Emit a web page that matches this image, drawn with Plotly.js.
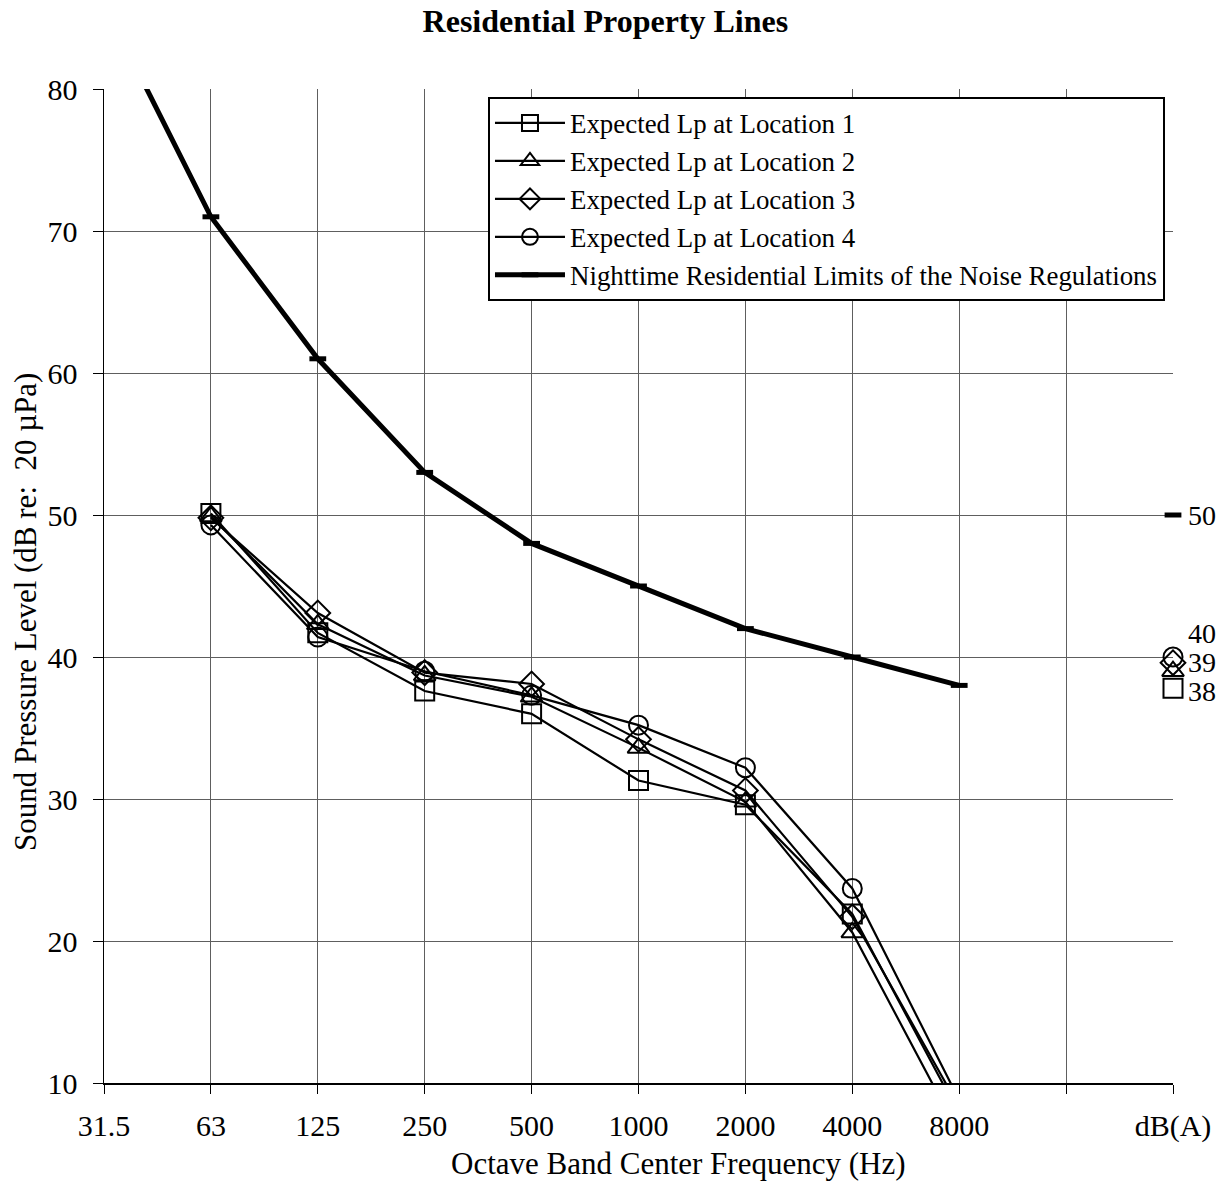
<!DOCTYPE html>
<html>
<head>
<meta charset="utf-8">
<script src="https://cdn.plot.ly/plotly-3.0.1.min.js"></script>
<style>body{margin:0;padding:0;background:#fff;} #chart{width:1228px;height:1195px;}</style>
</head>
<body>
<div id="chart"></div>
<script>
// Category labels along the x axis (octave bands, a blank slot, then the overall A-weighted level)
const bands = ['31.5', '63', '125', '250', '500', '1000', '2000', '4000', '8000'];
const xLabels = bands.concat(['', 'dB(A)']);

// Octave band sound pressure levels (dB re 20 µPa)
const loc1 = [null, 50.1, 41.7, 37.6, 36.0, 31.3, 29.6, 21.9, 7.8];
const loc2 = [null, 49.9, 42.3, 38.7, 37.2, 33.6, 29.8, 20.6, 6.4];
const loc3 = [null, 49.8, 43.1, 38.9, 38.1, 34.2, 30.6, 21.7, 8.3];
const loc4 = [null, 49.3, 41.4, 39.0, 37.3, 35.2, 32.2, 23.7, 8.8];
const limits = [86, 71, 61, 53, 48, 45, 42, 40, 38];

// Overall A-weighted levels
const dbaLoc1 = 37.8;
const dbaLoc2 = 39.0;
const dbaLoc3 = 39.6;
const dbaLoc4 = 40.0;
const dbaLimit = 50;

const seriesNames = [
  'Expected Lp at Location 1',
  'Expected Lp at Location 2',
  'Expected Lp at Location 3',
  'Expected Lp at Location 4',
  'Nighttime Residential Limits of the Noise Regulations'
];

const FONT = 'Liberation Serif, Times New Roman, serif';
const bandX = bands.map((_, i) => i);
const dbaX = xLabels.indexOf('dB(A)');

function locTrace(name, y, symbol) {
  return {
    type: 'scatter', mode: 'lines+markers', name: name,
    x: bandX, y: y,
    line: {color: '#000', width: 2.2},
    marker: {symbol: symbol, size: 19, color: '#000', line: {color: '#000', width: 2}},
    connectgaps: false
  };
}
function dbaTrace(y, symbol, size) {
  return {
    type: 'scatter', mode: 'markers',
    x: [dbaX], y: [y], showlegend: false, cliponaxis: false,
    marker: {symbol: symbol, size: size || 19, color: '#000', line: {color: '#000', width: symbol === 'line-ew' ? 5 : 2}}
  };
}

const traces = [
  locTrace(seriesNames[0], loc1, 'square-open'),
  locTrace(seriesNames[1], loc2, 'triangle-up-open'),
  locTrace(seriesNames[2], loc3, 'diamond-open'),
  locTrace(seriesNames[3], loc4, 'circle-open'),
  {
    type: 'scatter', mode: 'lines+markers', name: seriesNames[4],
    x: bandX, y: limits,
    line: {color: '#000', width: 5},
    marker: {symbol: 'line-ew', size: 12, color: '#000', line: {color: '#000', width: 5}}
  },
  dbaTrace(dbaLoc1, 'square-open'),
  dbaTrace(dbaLoc2, 'triangle-up-open'),
  dbaTrace(dbaLoc3, 'diamond-open'),
  dbaTrace(dbaLoc4, 'circle-open'),
  dbaTrace(dbaLimit, 'line-ew', 12)
];

// data labels for the overall A-weighted levels
function dbaLabel(value, yshift) {
  return {
    text: String(Math.round(value)),
    xref: 'x', yref: 'y', x: dbaX, y: value,
    xanchor: 'left', yanchor: 'middle', xshift: 13, yshift: yshift,
    showarrow: false,
    font: {family: FONT, size: 28, color: '#000'}
  };
}

const layout = {
  width: 1228, height: 1195,
  margin: {l: 104, r: 55, t: 89, b: 112, pad: 0},
  paper_bgcolor: '#fff', plot_bgcolor: '#fff',
  font: {family: FONT, color: '#000', size: 30},
  showlegend: true,
  title: {
    text: '<b>Residential Property Lines</b>',
    font: {family: FONT, size: 32, color: '#000'},
    xref: 'container', yref: 'container',
    x: 0.493, xanchor: 'center', y: 0.9825, yanchor: 'middle'
  },
  xaxis: {
    range: [0, 10],
    tickmode: 'array',
    tickvals: xLabels.map((_, i) => i),
    ticktext: xLabels,
    ticks: 'outside', ticklen: 9, tickcolor: '#000', tickwidth: 1,
    ticklabelstandoff: 6,
    showline: true, linecolor: '#000', linewidth: 1.5,
    showgrid: true, gridcolor: '#5e5e5e', gridwidth: 1,
    zeroline: false,
    tickfont: {family: FONT, size: 30, color: '#000'}
  },
  yaxis: {
    range: [10, 80],
    tick0: 10, dtick: 10,
    ticks: 'outside', ticklen: 10, tickcolor: '#000', tickwidth: 1,
    ticklabelstandoff: 9,
    showline: true, linecolor: '#000', linewidth: 1.5,
    showgrid: true, gridcolor: '#5e5e5e', gridwidth: 1,
    zeroline: false,
    tickfont: {family: FONT, size: 30, color: '#000'}
  },
  legend: {
    x: 0.3592, xanchor: 'left', y: 0.992, yanchor: 'top',
    bgcolor: '#fff', bordercolor: '#000', borderwidth: 2,
    font: {family: FONT, size: 26.9, color: '#000'},
    itemwidth: 70,
    tracegroupgap: 0
  },
  annotations: [
    {
      text: 'Sound Pressure Level (dB re:  20 µPa)',
      xref: 'paper', yref: 'paper', x: -0.0739, y: 0.4738,
      xanchor: 'center', yanchor: 'middle', textangle: -90, showarrow: false,
      font: {family: FONT, size: 31, color: '#000'}
    },
    {
      text: 'Octave Band Center Frequency (Hz)',
      xref: 'paper', yref: 'paper', x: 0.5374, y: -0.0805,
      xanchor: 'center', yanchor: 'middle', showarrow: false,
      font: {family: FONT, size: 31, color: '#000'}
    },
    dbaLabel(dbaLimit, 0),
    dbaLabel(dbaLoc4, 24),
    dbaLabel(dbaLoc2, 9),
    dbaLabel(dbaLoc1, -3)
  ]
};

Plotly.newPlot('chart', traces, layout, {displayModeBar: false, staticPlot: true});
</script>
</body>
</html>
